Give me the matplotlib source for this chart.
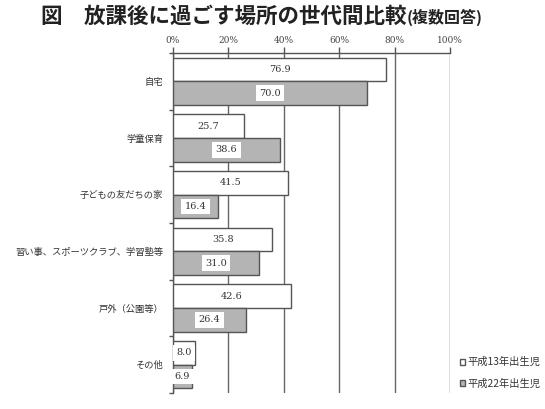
import numpy as np
import matplotlib
matplotlib.use("Agg")
import matplotlib.pyplot as plt

plt.rcParams['font.family'] = ['Noto Sans CJK JP', 'DejaVu Sans']

# data
categories = ['自宅', '学童保育', '子どもの友だちの家',
              '習い事、スポーツクラブ、学習塾等', '戸外（公園等）', 'その他']
h13 = [76.9, 25.7, 41.5, 35.8, 42.6, 8.0]
h22 = [70.0, 38.6, 16.4, 31.0, 26.4, 6.9]
series_names = ['平成13年出生児', '平成22年出生児']
xticks = [0, 20, 40, 60, 80, 100]

fig = plt.figure(figsize=(5.45, 4.09), dpi=100)
ax = fig.add_axes([173 / 545, 1 - 393 / 409, 277 / 545, 340 / 409])

y = np.arange(len(categories))
bh = 0.42
edge = '#555555'
b1 = ax.barh(y - bh / 2, h13, height=bh, color='white', edgecolor=edge, linewidth=1.0,
             label=series_names[0], zorder=3)
b2 = ax.barh(y + bh / 2, h22, height=bh, color='#b4b4b4', edgecolor=edge, linewidth=1.0,
             label=series_names[1], zorder=3)

for bars, vals in ((b1, h13), (b2, h22)):
    for rect, v in zip(bars, vals):
        ax.text(v / 2, rect.get_y() + rect.get_height() / 2, f'{v:.1f}',
                ha='center', va='center', fontsize=7, family='DejaVu Serif',
                color='#333333', zorder=5,
                bbox=dict(boxstyle='square,pad=0.35', fc='white', ec='none'))

ax.set_xlim(0, 100)
ax.set_ylim(len(categories) - 0.5, -0.5)
ax.xaxis.tick_top()
ax.set_xticks(xticks)
ax.set_xticklabels([f'{t}%' for t in xticks], fontsize=6.5, family='DejaVu Serif',
                   color='#444444')
ax.tick_params(axis='x', length=4, width=1, color='#555555', pad=2)
ax.grid(axis='x', color='#666666', linewidth=1.0, zorder=0)

ax.set_yticks(np.arange(len(categories) + 1) - 0.5)
ax.set_yticklabels([])
ax.set_yticks(y, minor=True)
ax.set_yticklabels(categories, minor=True, fontsize=6.7, color='#333333')
ax.tick_params(axis='y', which='major', length=3, width=1, color='#555555')
ax.tick_params(axis='y', which='minor', length=0, pad=7)

for s in ('right', 'bottom'):
    ax.spines[s].set_visible(False)
for s in ('left', 'top'):
    ax.spines[s].set_color('#555555')
    ax.spines[s].set_linewidth(1.0)

leg = fig.legend(handles=[b1, b2], loc='upper left', bbox_to_anchor=(455 / 545, 1 - 352 / 409),
                 frameon=False, fontsize=7.4, handlelength=0.5, handleheight=0.5,
                 handletextpad=0.25, labelspacing=1.1, borderpad=0)
for t in leg.get_texts():
    t.set_color('#333333')

# title in two sizes
t1 = fig.text(41 / 545, 1 - 16 / 409, '図　放課後に過ごす場所の世代間比較', fontsize=15.5,
              fontweight='bold', va='center', ha='left', color='#222222')
fig.canvas.draw()
bb = t1.get_window_extent()
fig.text(bb.x1 / fig.bbox.width, 1 - 17 / 409, '(複数回答)', fontsize=11.5,
         fontweight='bold', va='center', ha='left', color='#222222')

fig.savefig('out.png', dpi=100)
